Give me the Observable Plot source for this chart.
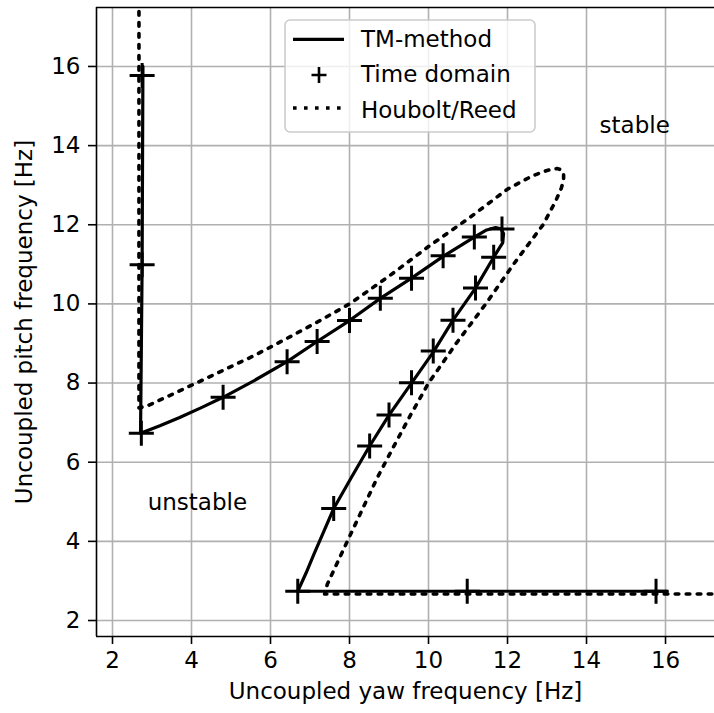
<!DOCTYPE html>
<html>
<head>
<meta charset="utf-8">
<script src="https://cdn.jsdelivr.net/npm/d3@7"></script>
<script src="https://cdn.jsdelivr.net/npm/@observablehq/plot@0.6"></script>
<style>
  html, body { margin: 0; padding: 0; background: white; }
  #chart { position: relative; width: 714px; height: 713px; }
</style>
</head>
<body>
<div id="chart"></div>
<script>
// ---- Data ----
const xTicks = [2, 4, 6, 8, 10, 12, 14, 16];
const yTicks = [2, 4, 6, 8, 10, 12, 14, 16];
const xDomain = [1.595, 17.24];
const yDomain = [1.596, 17.49];
const xLabel = "Uncoupled yaw frequency [Hz]";
const yLabel = "Uncoupled pitch frequency [Hz]";
const seriesNames = ["TM-method", "Time domain", "Houbolt/Reed"];

// TM-method (solid line): [yaw, pitch]
const tmMethod = [
  [2.77, 16.0], [2.75, 11.0], [2.71, 6.73],
  [3.2, 6.92], [3.7, 7.13], [4.25, 7.38], [4.8, 7.64], [5.6, 8.07], [6.42, 8.54],
  [7.18, 9.05], [8.0, 9.58], [8.78, 10.14], [9.57, 10.65], [10.37, 11.2],
  [11.16, 11.69], [11.45, 11.86], [11.7, 11.93], [11.83, 11.9], [11.9, 11.78],
  [11.88, 11.55], [11.65, 11.18], [11.19, 10.40], [10.62, 9.59], [10.12, 8.78],
  [9.57, 8.0], [9.0, 7.19], [8.51, 6.41], [8.05, 5.62], [7.6, 4.83],
  [7.35, 4.25], [7.1, 3.68], [6.9, 3.2], [6.69, 2.74],
  [11.0, 2.74], [16.04, 2.74]
];

// Time domain (plus markers)
const timeDomain = [
  [2.75, 15.77], [2.75, 10.99], [2.73, 6.73], [4.80, 7.64], [6.42, 8.54],
  [7.18, 9.05], [8.0, 9.58], [8.78, 10.14], [9.57, 10.65], [10.37, 11.22],
  [11.16, 11.69], [11.86, 11.89], [11.65, 11.18], [11.19, 10.40], [10.62, 9.59],
  [10.12, 8.81], [9.57, 8.01], [9.0, 7.19], [8.51, 6.41], [7.60, 4.83],
  [6.69, 2.74], [10.98, 2.74], [15.76, 2.74]
];

// Houbolt/Reed (dotted line)
const houboltReed = [
  [2.67, 18.5], [2.67, 7.37], [2.92, 7.44], [3.8, 7.85], [4.82, 8.33],
  [5.6, 8.7], [6.4, 9.12], [7.2, 9.55], [8.0, 10.0], [9.0, 10.7],
  [10.0, 11.45], [11.0, 12.15], [12.0, 12.9], [12.6, 13.22], [12.9, 13.34],
  [13.1, 13.4], [13.25, 13.42], [13.36, 13.39], [13.42, 13.28], [13.42, 13.12],
  [13.36, 12.92], [13.22, 12.6], [12.9, 12.0], [12.15, 11.0], [11.45, 10.0],
  [10.7, 9.0], [10.0, 8.0], [9.55, 7.2], [9.12, 6.4], [8.7, 5.6], [8.33, 4.82],
  [7.85, 3.8], [7.44, 2.92], [7.37, 2.67], [18.5, 2.67]
];

// Annotations
const annotations = [
  {label: "stable", x: 14.33, y: 14.32},
  {label: "unstable", x: 2.89, y: 4.78}
];

// ---- Drawing ----
const FONT = "DejaVu Sans";
const plusSymbol = {
  draw(ctx, size) {
    const r = Math.sqrt(size / Math.PI);
    ctx.moveTo(-r, 0); ctx.lineTo(r, 0);
    ctx.moveTo(0, -r); ctx.lineTo(0, r);
  }
};
const gridStyle = {stroke: "#b0b0b0", strokeOpacity: 1, strokeWidth: 1.6};

const svg = Plot.plot({
  width: 714,
  height: 713,
  marginLeft: 96,
  marginRight: 0,
  marginTop: 7,
  marginBottom: 77,
  style: {fontFamily: FONT, fontSize: "23px", color: "black", background: "white"},
  x: {domain: xDomain},
  y: {domain: yDomain},
  marks: [
    Plot.gridX(xTicks, gridStyle),
    Plot.gridY(yTicks, gridStyle),
    Plot.ruleX([xDomain[0]], {stroke: "black", strokeWidth: 1.6}),
    Plot.ruleY([yDomain[0], yDomain[1]], {stroke: "black", strokeWidth: 1.6}),
    Plot.axisX(xTicks, {tickSize: 8, tickPadding: 7, fontSize: 23, label: null, strokeWidth: 1.6}),
    Plot.axisY(yTicks, {tickSize: 8, tickPadding: 8, fontSize: 23, label: null, strokeWidth: 1.6}),
    Plot.line(tmMethod, {x: d => d[0], y: d => d[1], stroke: "black", strokeWidth: 3.2,
      strokeLinejoin: "round", clip: true}),
    Plot.dot(timeDomain, {x: d => d[0], y: d => d[1], symbol: plusSymbol, r: 12.5,
      stroke: "black", strokeWidth: 3, fill: "none", clip: true}),
    Plot.line(houboltReed, {x: d => d[0], y: d => d[1], stroke: "black", strokeWidth: 3.6,
      strokeDasharray: "3.6,7.4", clip: true}),
    Plot.text(annotations, {x: "x", y: "y", text: "label", textAnchor: "start",
      lineAnchor: "bottom", fontSize: 23, fill: "black"}),
    Plot.text([xLabel], {frameAnchor: "bottom", text: d => d, dy: 55, lineAnchor: "middle",
      textAnchor: "middle", fontSize: 23, fill: "black"}),
    Plot.text([yLabel], {frameAnchor: "left", text: d => d, rotate: -90, dx: -72,
      lineAnchor: "middle", textAnchor: "middle", fontSize: 23, fill: "black"})
  ]
});

// ---- Legend (inside the axes, upper centre) ----
const g = d3.select(svg).append("g")
  .attr("font-family", FONT).attr("font-size", 23).attr("text-anchor", "start");
g.append("rect")
  .attr("x", 285).attr("y", 20).attr("width", 250).attr("height", 112)
  .attr("rx", 5).attr("ry", 5)
  .attr("fill", "white").attr("fill-opacity", 0.8)
  .attr("stroke", "#cccccc").attr("stroke-width", 1.6);
g.append("line").attr("x1", 293).attr("x2", 344).attr("y1", 39.3).attr("y2", 39.3)
  .attr("stroke", "black").attr("stroke-width", 3.2);
g.append("path").attr("d", "M311.5,75H326.5M319,67V83")
  .attr("stroke", "black").attr("stroke-width", 2.6).attr("fill", "none");
g.append("line").attr("x1", 293).attr("x2", 344).attr("y1", 108).attr("y2", 108)
  .attr("stroke", "black").attr("stroke-width", 3.6).attr("stroke-dasharray", "3.6,7.4");
[46.7, 81.7, 118.3].forEach((yb, i) => {
  g.append("text").attr("x", 361).attr("y", yb).attr("fill", "black")
    .attr("text-anchor", "start").text(seriesNames[i]);
});

document.getElementById("chart").appendChild(svg);
</script>
</body>
</html>
